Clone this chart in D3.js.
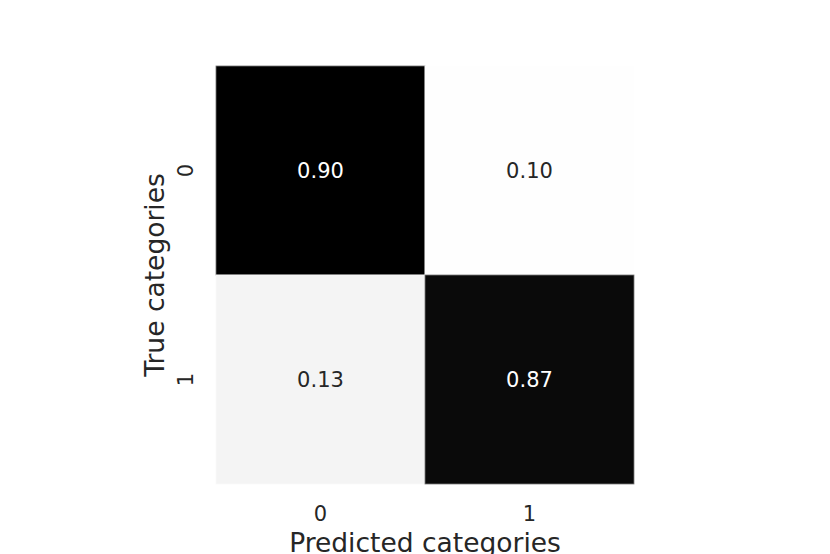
<!DOCTYPE html>
<html>
<head>
<meta charset="utf-8">
<script src="https://cdn.jsdelivr.net/npm/d3@7"></script>
<style>
  html, body { margin: 0; padding: 0; background: #ffffff; }
  svg { display: block; font-family: "DejaVu Sans", sans-serif; }
</style>
</head>
<body>
<div id="chart"></div>
<script>
const predictedCategories = ["0", "1"];
const trueCategories = ["0", "1"];
const row0Values = [0.90, 0.10];
const row1Values = [0.13, 0.87];
const xAxisTitle = "Predicted categories";
const yAxisTitle = "True categories";

const W = 830, H = 554;
const plotLeft = 216, plotTop = 66, plotSize = 418;

const cells = [];
[row0Values, row1Values].forEach((row, i) => {
  row.forEach((v, j) => cells.push({ t: trueCategories[i], p: predictedCategories[j], v }));
});

const svg = d3.select("#chart").append("svg").attr("width", W).attr("height", H);

const x = d3.scaleBand().domain(predictedCategories).range([plotLeft, plotLeft + plotSize]);
const y = d3.scaleBand().domain(trueCategories).range([plotTop, plotTop + plotSize]);
const allVals = cells.map(d => d.v);
const color = d3.scaleLinear().domain([d3.min(allVals), d3.max(allVals)]).range(["#fefefe", "#000000"]);
const textColor = v => (d3.hsl(color(v)).l < 0.5) ? "#ffffff" : "#262626";

svg.append("g").selectAll("rect").data(cells).join("rect")
  .attr("x", d => x(d.p)).attr("y", d => y(d.t))
  .attr("width", x.bandwidth()).attr("height", y.bandwidth())
  .attr("fill", d => color(d.v))
  .attr("stroke", d => d3.interpolateRgb(color(d.v), "#ffffff")(0.45))
  .attr("stroke-width", 0.8);

svg.append("g").selectAll("text").data(cells).join("text")
  .attr("x", d => x(d.p) + x.bandwidth() / 2)
  .attr("y", d => y(d.t) + y.bandwidth() / 2)
  .attr("dy", "0.35em")
  .attr("text-anchor", "middle")
  .attr("font-size", 21)
  .attr("fill", d => textColor(d.v))
  .text(d => d3.format(".2f")(d.v));

// x axis
const xAxis = svg.append("g").attr("transform", `translate(0,${plotTop + plotSize})`)
  .call(d3.axisBottom(x).tickSize(0).tickPadding(0));
xAxis.select(".domain").remove();
xAxis.selectAll("text").attr("font-size", 21).attr("fill", "#262626")
  .attr("font-family", "DejaVu Sans").attr("dy", null).attr("y", 37);

// y axis
const yAxis = svg.append("g").attr("transform", `translate(${plotLeft},0)`)
  .call(d3.axisLeft(y).tickSize(0).tickPadding(0));
yAxis.select(".domain").remove();
yAxis.selectAll("text")
  .attr("font-size", 21).attr("fill", "#262626").attr("font-family", "DejaVu Sans")
  .attr("x", null).attr("dy", null).attr("y", null)
  .attr("text-anchor", "middle")
  .attr("transform", "translate(-23,0) rotate(-90)");

svg.append("text")
  .attr("x", plotLeft + plotSize / 2).attr("y", 551.5)
  .attr("text-anchor", "middle").attr("font-size", 26.5).attr("fill", "#262626")
  .text(xAxisTitle);

svg.append("text")
  .attr("transform", `translate(163.5,${plotTop + plotSize / 2}) rotate(-90)`)
  .attr("text-anchor", "middle").attr("font-size", 26.5).attr("fill", "#262626")
  .text(yAxisTitle);
</script>
</body>
</html>
